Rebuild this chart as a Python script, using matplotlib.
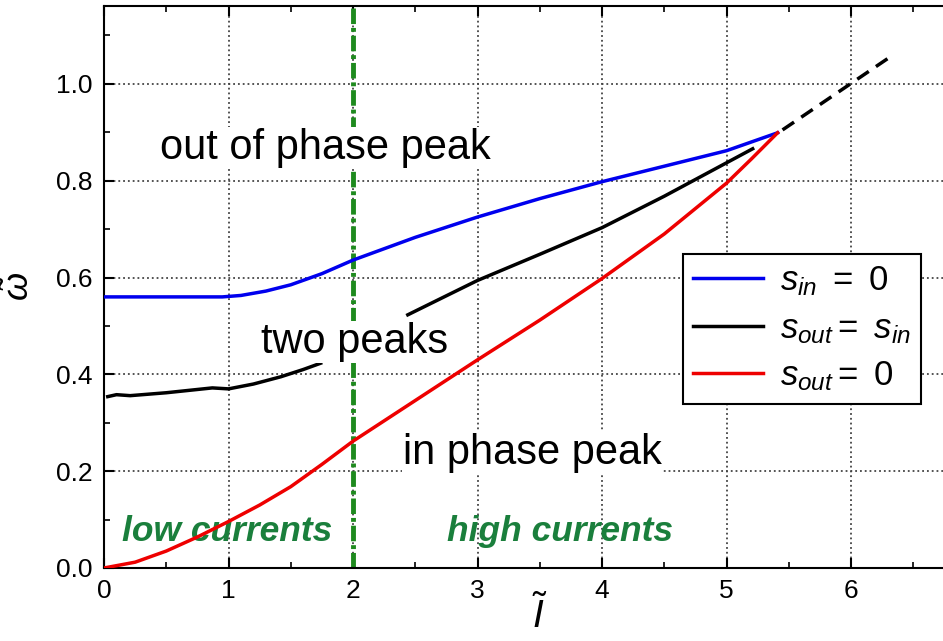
import numpy as np
import matplotlib
matplotlib.use('Agg')
import matplotlib.pyplot as plt
from matplotlib.ticker import MultipleLocator, FixedLocator

plt.rcParams['font.family'] = ['Liberation Sans', 'DejaVu Sans']
plt.rcParams['mathtext.fontset'] = 'custom'
plt.rcParams['mathtext.rm'] = 'Liberation Sans'
plt.rcParams['mathtext.it'] = 'Liberation Sans:italic'

# s_in = 0 (blue)
blue_x = [0.0, 0.5, 0.95, 1.1, 1.3, 1.5, 1.75, 2.0, 2.5, 3.0, 3.5, 4.0, 4.5, 5.0, 5.41]
blue_y = [0.56, 0.56, 0.56, 0.563, 0.572, 0.585, 0.608, 0.636, 0.683, 0.725, 0.763, 0.798, 0.83, 0.862, 0.899]

# s_out = s_in (black), gap where it runs behind "two peaks"
black_x = [0.03, 0.1, 0.21, 0.5, 0.87, 1.0, 1.2, 1.42, 1.6, 1.74, np.nan,
           2.44, 2.7, 3.0, 3.5, 4.0, 4.5, 5.0, 5.21]
black_y = [0.354, 0.358, 0.356, 0.362, 0.372, 0.37, 0.38, 0.395, 0.41, 0.423, np.nan,
           0.523, 0.556, 0.594, 0.648, 0.703, 0.768, 0.837, 0.866]

# s_out = 0 (red)
red_x = [0.0, 0.25, 0.5, 0.75, 1.0, 1.25, 1.5, 1.75, 2.0, 2.5, 3.0, 3.5, 4.0, 4.5, 5.0, 5.2, 5.41]
red_y = [0.0, 0.012, 0.035, 0.064, 0.096, 0.13, 0.168, 0.214, 0.262, 0.346, 0.43, 0.512, 0.598, 0.69, 0.795, 0.845, 0.899]

# dashed extension
ext_x = [5.45, 6.35]
ext_y = [0.905, 1.062]

boundary_x = 2.0

fig = plt.figure(figsize=(9.43, 6.41), dpi=100)
ax = fig.add_axes([0.1103, 0.1139, 0.9242, 0.8768])

ax.grid(True, which='major', linestyle=':', color='#444444', linewidth=1.3, zorder=0)
ax.set_axisbelow(True)

ax.plot(blue_x, blue_y, color='#0000ee', lw=2.5, label=r'$\mathit{s_{in}\ =\ 0}$', zorder=3)
ax.plot(black_x, black_y, color='black', lw=2.5, label=r'$\mathit{s_{out}=\ s_{in}}$', zorder=3)
ax.plot(red_x, red_y, color='#ee0000', lw=2.5, label=r'$\mathit{s_{out}=\ 0}$', zorder=3)
ax.plot(ext_x, ext_y, color='black', lw=2.5, linestyle=(0, (4, 2.5)), zorder=3)

ax.axvline(boundary_x, color='#1e8a1e', lw=3.5, linestyle=(0, (3.2, 0.8, 0.8, 0.8)), zorder=2)

bb = dict(facecolor='white', edgecolor='none', pad=1)
ax.text(1.775, 0.868, 'out of phase peak', fontsize=30, ha='center', va='center', bbox=bb, zorder=4)
ax.text(2.016, 0.467, 'two peaks', fontsize=30, ha='center', va='center', bbox=bb, zorder=4)
ax.text(3.44, 0.238, 'in phase peak', fontsize=30, ha='center', va='center', bbox=bb, zorder=4)
ax.text(0.99, 0.076, 'low currents', fontsize=25.5, ha='center', va='center',
        color='#1a7f3c', fontweight='bold', fontstyle='italic', zorder=2)
ax.text(3.66, 0.076, 'high currents', fontsize=25.5, ha='center', va='center',
        color='#1a7f3c', fontweight='bold', fontstyle='italic', zorder=2)

ax.set_xlim(0, 7)
ax.set_ylim(0, 1.161)
ax.xaxis.set_major_locator(FixedLocator([0, 1, 2, 3, 4, 5, 6]))
ax.xaxis.set_minor_locator(MultipleLocator(0.5))
ax.yaxis.set_major_locator(MultipleLocator(0.2))
ax.yaxis.set_minor_locator(MultipleLocator(0.1))
ax.yaxis.set_major_formatter(plt.FormatStrFormatter('%.1f'))
ax.tick_params(which='both', direction='in', top=True, right=False, labelsize=19)
ax.tick_params(which='major', length=7, width=1.5, pad=8)
ax.tick_params(which='minor', length=4, width=1.2)
for s in ax.spines.values():
    s.set_linewidth(1.5)

fig.text(540 / 943, 5 / 641, r'$\tilde{I}$', fontsize=28, ha='center', va='bottom')
ax.set_ylabel(r'$\tilde{\omega}$', fontsize=26, labelpad=14)

leg = ax.legend(loc='upper left', bbox_to_anchor=(0.664, 0.5587), borderaxespad=0,
                fontsize=25, fancybox=False, framealpha=1, edgecolor='black',
                handlelength=2.0, handletextpad=0.5, labelspacing=0.4, borderpad=0.3)
leg.get_frame().set_linewidth(1.5)

fig.savefig('out.png', dpi=100)
